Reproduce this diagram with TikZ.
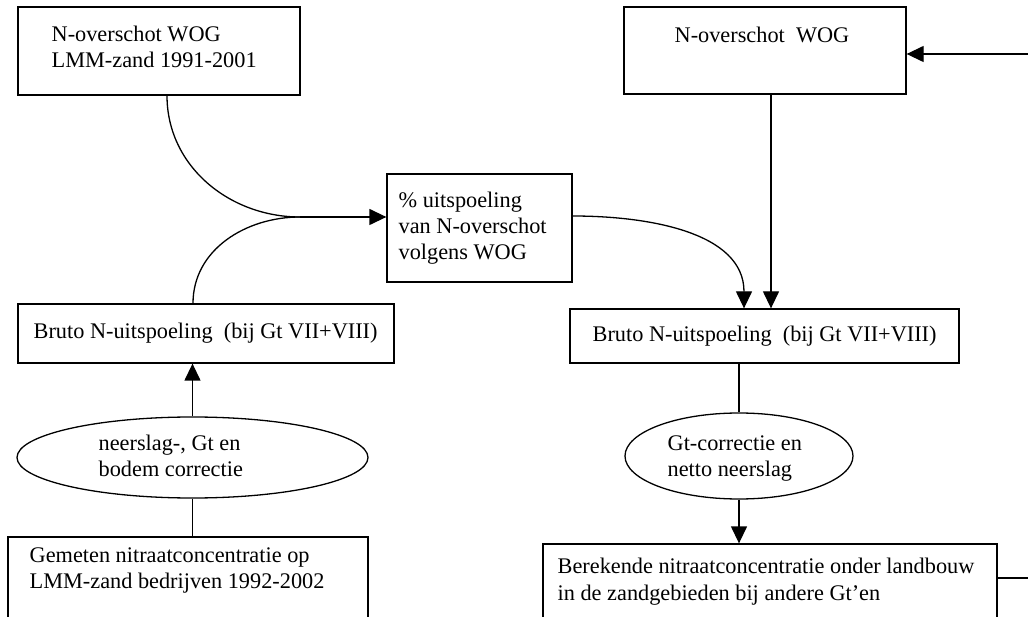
\documentclass[tikz,border=0pt]{standalone}
\usepackage{fontspec}
\setmainfont{Liberation Serif}
\usetikzlibrary{arrows.meta,shapes.geometric}
\begin{document}
\begin{tikzpicture}[x=1pt,y=-1pt,
  line width=1.3pt,
  box/.style={draw,rectangle,inner sep=0pt,minimum width=#1},
  oval/.style={draw,ellipse,inner sep=0pt},
  txt/.style={anchor=base west,inner sep=0pt,font=\fontsize{22.3}{26}\selectfont},
  arr/.style={-{Triangle[length=17pt,width=16pt]}}]
\useasboundingbox (0,0) rectangle (1028,617);
\clip (0,0) rectangle (1028,617);
% boxes
\node[box=282pt,minimum height=88pt] (tl) at (159,51) {};
\node[box=185pt,minimum height=108pt] (mid) at (479.5,228) {};
\node[box=282pt,minimum height=87pt] (tr) at (765,50.5) {};
\node[box=376pt,minimum height=59pt] (lb) at (206,333.5) {};
\node[box=389pt,minimum height=54pt] (rb) at (764.5,336) {};
\node[oval,minimum width=351pt,minimum height=81pt] (le) at (192.5,457.5) {};
\node[oval,minimum width=228pt,minimum height=86pt] (re) at (739,456) {};
\node[box=360pt,minimum height=113pt] (bl) at (188,593.5) {};
\node[box=454pt,minimum height=106pt] (br) at (770,597) {};
% texts
\node[txt] (tl1) at (51,42) {N-overschot WOG};
\node[txt] (tl2) at (51,68) {LMM-zand 1991-2001};
\node[txt] (m1) at (398,208) {\% uitspoeling};
\node[txt] (m2) at (398,234) {van N-overschot};
\node[txt] (m3) at (398,260) {volgens WOG};
\node[txt] (tr1) at (674,43) {N-overschot\ \ WOG};
\node[txt] (lb1) at (33,339) {Bruto N-uitspoeling\ \ (bij Gt VII+VIII)};
\node[txt] (rb1) at (592,342) {Bruto N-uitspoeling\ \ (bij Gt VII+VIII)};
\node[txt] (le1) at (98,450) {neerslag-, Gt en};
\node[txt] (le2) at (98,476) {bodem correctie};
\node[txt] (re1) at (667,450) {Gt-correctie en};
\node[txt] (re2) at (667,476) {netto neerslag};
\node[txt] (bl1) at (29,562) {Gemeten nitraatconcentratie op};
\node[txt] (bl2) at (29,588) {LMM-zand bedrijven 1992-2002};
\node[txt] (br1) at (557,573) {Berekende nitraatconcentratie onder landbouw};
\node[txt] (br2) at (557,600) {in de zandgebieden bij andere Gt’en};
% connectors
\coordinate (J) at (300,217);
\coordinate (R) at (1035,54);
\coordinate (R2) at (1035,578);
\draw (tl.south -| 167,0) to[out=-90,in=180] (J);
\draw (lb.north -| 193,0) to[out=90,in=180] (J);
\draw[arr] (J) -- (mid.west |- J);
\draw[arr] (mid.east |- 0,216) to[out=0,in=90] (rb.north -| 744,0);
\draw[arr] (tr.south -| 771,0) -- (rb.north -| 771,0);
\draw[arr] (R) -- (tr.east |- R);
\draw[arr] (le.north) -- (lb.south -| le.north);
\draw (le.south) -- (bl.north -| le.south);
\draw (rb.south -| re.north) -- (re.north);
\draw[arr] (re.south) -- (br.north -| re.south);
\draw (br.east |- R2) -- (R2);
\end{tikzpicture}
\end{document}
